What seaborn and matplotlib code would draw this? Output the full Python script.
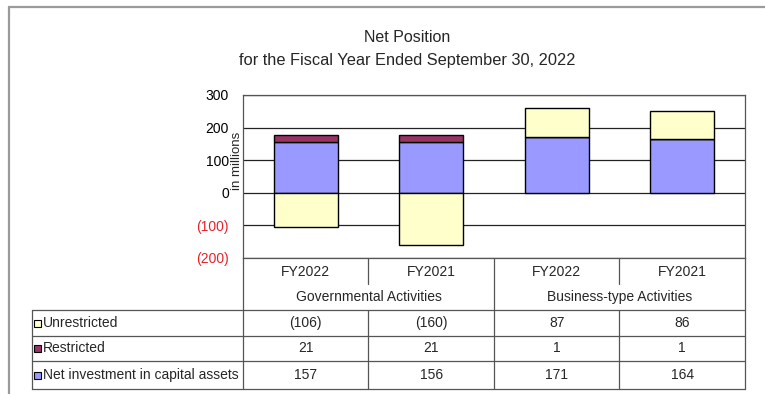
import matplotlib
matplotlib.use("Agg")
import matplotlib.pyplot as plt
import numpy as np
import pandas as pd
import seaborn as sns

# ---- data (in millions) ----
groups = ["Governmental Activities", "Governmental Activities",
          "Business-type Activities", "Business-type Activities"]
years = ["FY2022", "FY2021", "FY2022", "FY2021"]
unrestricted = [-106, -160, 87, 86]
restricted = [21, 21, 1, 1]
net_investment = [157, 156, 171, 164]
series_names = ["Unrestricted", "Restricted", "Net investment in capital assets"]
series_colors = ["#FFFFCC", "#993366", "#9999FF"]
y_ticks = [-200, -100, 0, 100, 200, 300]

sns.set_style("white")
plt.rcParams["font.family"] = ["Liberation Sans", "DejaVu Sans"]

W, H = 765, 394
fig = plt.figure(figsize=(W / 100, H / 100), dpi=100)
fig.patch.set_facecolor("white")

# plot area in pixel coordinates
px_left, px_right, px_top, px_bottom = 243, 745, 95, 258
ax = fig.add_axes([px_left / W, 1 - px_bottom / H,
                   (px_right - px_left) / W, (px_bottom - px_top) / H])

keys = [f"{g} {y}" for g, y in zip(groups, years)]
df = pd.DataFrame({
    "key": keys,
    "net": net_investment,
    "restricted": restricted,
    "unrestricted": unrestricted,
})
net = np.array(net_investment, dtype=float)
res = np.array(restricted, dtype=float)
unr = np.array(unrestricted, dtype=float)
unr_bottom = np.where(unr >= 0, net + res, 0.0)

bar_kw = dict(order=keys, width=0.51, edgecolor="black", linewidth=1.0,
              errorbar=None, saturation=1, ax=ax, zorder=3)
sns.barplot(data=df, x="key", y="net", color=series_colors[2], bottom=0, **bar_kw)
sns.barplot(data=df, x="key", y="restricted", color=series_colors[1], bottom=net, **bar_kw)
sns.barplot(data=df, x="key", y="unrestricted", color=series_colors[0], bottom=unr_bottom, **bar_kw)

ax.set_ylim(-200, 300)
ax.set_xlim(-0.5, 3.5)
ax.set_yticks(y_ticks)
ax.set_yticklabels([f"({-v})" if v < 0 else f"{v}" for v in y_ticks], fontsize=10)
for lbl, v in zip(ax.get_yticklabels(), y_ticks):
    lbl.set_color("#E8202A" if v < 0 else "black")
ax.tick_params(axis="y", length=0, pad=10)
ax.set_xticks([])
ax.set_xlabel("")
ax.set_ylabel("")
for v in y_ticks:
    ax.axhline(v, color="#222222", linewidth=0.9, zorder=1)
for sp in ax.spines.values():
    sp.set_visible(True)
    sp.set_color("#555555")
    sp.set_linewidth(0.9)
ax.text(-0.011, 0.595, "in millions", transform=ax.transAxes, rotation=90,
        ha="center", va="center", fontsize=9.5)

# ---- overlay in pixel coordinates: title, frame and data table ----
ov = fig.add_axes([0, 0, 1, 1], zorder=5)
ov.set_xlim(0, W)
ov.set_ylim(H, 0)
ov.axis("off")
ov.patch.set_alpha(0)

ov.plot([9, W], [7, 7], color="#9a9a9a", linewidth=1.6)
ov.plot([9, 9], [7, H], color="#9a9a9a", linewidth=1.6)

ov.text(407, 37, "Net Position", ha="center", va="center", fontsize=11.5)
ov.text(407, 60, "for the Fiscal Year Ended September 30, 2022",
        ha="center", va="center", fontsize=11.8)

line_kw = dict(color="#555555", linewidth=0.9)
col_edges = np.linspace(px_left, px_right, len(keys) + 1)
table_left = 32
y_fy, y_grp, y_rows = 258, 284, [310, 336, 361, 389]

# outer verticals of the table
ov.plot([px_left, px_left], [px_bottom, y_rows[-1]], **line_kw)
ov.plot([px_right, px_right], [px_bottom, y_rows[-1]], **line_kw)
ov.plot([table_left, table_left], [y_rows[0], y_rows[-1]], **line_kw)
for yy in y_rows:
    ov.plot([table_left, px_right], [yy, yy], **line_kw)
# column dividers: the middle one separates the two activity groups
for i, xx in enumerate(col_edges[1:-1], start=1):
    if i != 2:
        ov.plot([xx, xx], [y_fy, y_grp], **line_kw)
        ov.plot([xx, xx], [y_rows[0], y_rows[-1]], **line_kw)
    else:
        ov.plot([xx, xx], [y_fy, y_rows[-1]], **line_kw)

fs = 10
centers = (col_edges[:-1] + col_edges[1:]) / 2
for cx, yr in zip(centers, years):
    ov.text(cx, (y_fy + y_grp) / 2 + 1, yr, ha="center", va="center", fontsize=fs)
group_names = list(dict.fromkeys(groups))
for gname in group_names:
    idx = [i for i, g in enumerate(groups) if g == gname]
    gx = (col_edges[idx[0]] + col_edges[idx[-1] + 1]) / 2
    ov.text(gx, (y_grp + y_rows[0]) / 2, gname, ha="center", va="center", fontsize=fs)

table_values = [unrestricted, restricted, net_investment]
for r, (name, color, vals) in enumerate(zip(series_names, series_colors, table_values)):
    y0, y1 = y_rows[r], y_rows[r + 1]
    cy = (y0 + y1) / 2
    ov.add_patch(plt.Rectangle((34, cy - 3.5), 7, 7, facecolor=color,
                               edgecolor="black", linewidth=0.8))
    ov.text(43, cy, name, ha="left", va="center", fontsize=fs)
    for cx, v in zip(centers, vals):
        ov.text(cx, cy, f"({-v})" if v < 0 else f"{v}", ha="center", va="center",
                fontsize=fs)

fig.savefig("out.png", dpi=100, facecolor="white")
